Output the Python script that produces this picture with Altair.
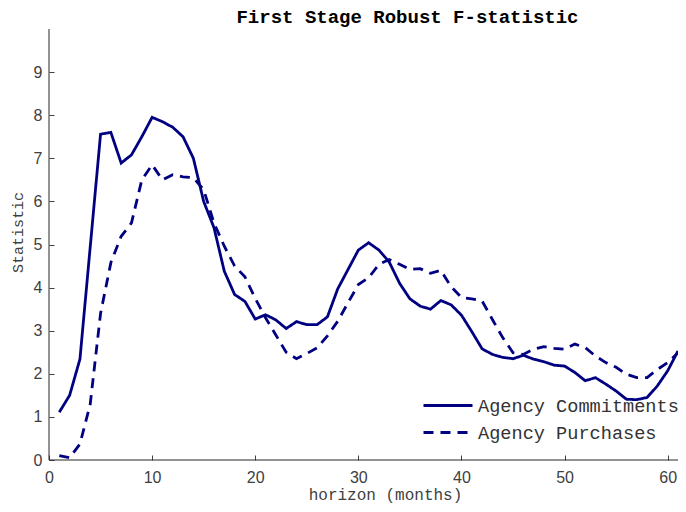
import altair as alt
import pandas as pd

horizon = list(range(1, 62))
commitments = [1.11, 1.5, 2.34, 4.95, 7.56, 7.6, 6.89, 7.08, 7.5, 7.95,
               7.85, 7.72, 7.5, 7.0, 6.0, 5.39, 4.38, 3.84, 3.68, 3.27,
               3.37, 3.25, 3.05, 3.21, 3.14, 3.14, 3.32, 3.97, 4.42, 4.87,
               5.04, 4.87, 4.59, 4.1, 3.74, 3.57, 3.5, 3.7, 3.6, 3.36,
               2.98, 2.58, 2.45, 2.38, 2.35, 2.43, 2.34, 2.28, 2.2, 2.18,
               2.03, 1.84, 1.91, 1.76, 1.6, 1.41, 1.40, 1.45, 1.72, 2.07,
               2.53]
purchases = [0.1, 0.05, 0.37, 1.3, 3.4, 4.58, 5.19, 5.5, 6.5, 6.85,
             6.5, 6.62, 6.57, 6.55, 6.27, 5.5, 4.96, 4.5, 4.25, 3.75,
             3.3, 2.9, 2.5, 2.35, 2.47, 2.6, 2.88, 3.22, 3.65, 4.07,
             4.23, 4.54, 4.65, 4.54, 4.42, 4.44, 4.33, 4.4, 4.02, 3.77,
             3.74, 3.69, 3.26, 2.84, 2.49, 2.45, 2.57, 2.63, 2.59, 2.57,
             2.69, 2.61, 2.41, 2.26, 2.15, 1.99, 1.91, 1.91, 2.1, 2.26,
             2.49]
series_names = ["Agency Commitments", "Agency Purchases"]
x_ticks = [0, 10, 20, 30, 40, 50, 60]
y_ticks = [0, 1, 2, 3, 4, 5, 6, 7, 8, 9]

df = pd.DataFrame({"horizon": horizon * 2,
                   "value": commitments + purchases,
                   "series": [series_names[0]] * len(horizon) + [series_names[1]] * len(horizon)})
zero_df = pd.DataFrame({"horizon": [0], "value": [0]})

NAVY = "#000080"
AX = "#262626"
GRAY = "#404040"
xscale = alt.Scale(domain=[0, 61.0], nice=False, zero=False)
yscale = alt.Scale(domain=[0, 10], nice=False)

x_axis = alt.Axis(values=x_ticks, format="d", grid=False, domain=False, labelFlush=False,
                  tickSize=5, offset=-5, tickColor=GRAY, labelColor=GRAY,
                  labelFont="Liberation Sans", labelFontSize=16, labelPadding=9,
                  title="horizon (months)", titleFont="Liberation Mono",
                  titleFontSize=16, titleFontWeight="normal", titleColor=GRAY,
                  titlePadding=1, titleX=336)
y_axis = alt.Axis(values=y_ticks, format="d", grid=False, domain=False,
                  tickSize=5, offset=-5, tickColor=GRAY, labelColor=GRAY,
                  labelFont="Liberation Sans", labelFontSize=16, labelPadding=7,
                  title="Statistic", titleFont="Liberation Mono",
                  titleFontSize=15, titleFontWeight="normal", titleColor=GRAY,
                  titlePadding=8, titleY=203)

lines = alt.Chart(df).mark_line(strokeWidth=2.8, color=NAVY).encode(
    x=alt.X("horizon:Q", scale=xscale, axis=x_axis),
    y=alt.Y("value:Q", scale=yscale, axis=y_axis),
    strokeDash=alt.StrokeDash("series:N",
                              scale=alt.Scale(domain=series_names, range=[[1, 0], [10, 7]]),
                              legend=alt.Legend(title=None, orient="none", legendX=373, legendY=367,
                                                symbolType="stroke", symbolSize=2401,
                                                symbolStrokeWidth=3, symbolStrokeColor=NAVY,
                                                labelFont="Liberation Mono", labelFontSize=18.6,
                                                labelColor="#333333", labelOffset=4,
                                                clipHeight=19, rowPadding=7, padding=0,
                                                labelLimit=400)),
)

yrule = alt.Chart(zero_df).mark_rule(color=AX, strokeWidth=1).encode(
    x=alt.X("horizon:Q", scale=xscale, axis=x_axis))
xrule = alt.Chart(zero_df).mark_rule(color=AX, strokeWidth=1).encode(
    y=alt.Y("value:Q", scale=yscale, axis=y_axis))

chart = alt.layer(lines, yrule, xrule).properties(
    width=629, height=431,
    title=alt.TitleParams("First Stage Robust F-statistic", font="Liberation Mono",
                          fontSize=19, fontWeight="bold", color="#000000", dx=44, offset=2),
    autosize=alt.AutoSizeParams(type="none"),
    padding={"left": 41, "top": 21, "right": 0, "bottom": 44},
).configure_view(stroke=None)

chart.save("out.html", embed_options={"renderer": "svg", "actions": False})
